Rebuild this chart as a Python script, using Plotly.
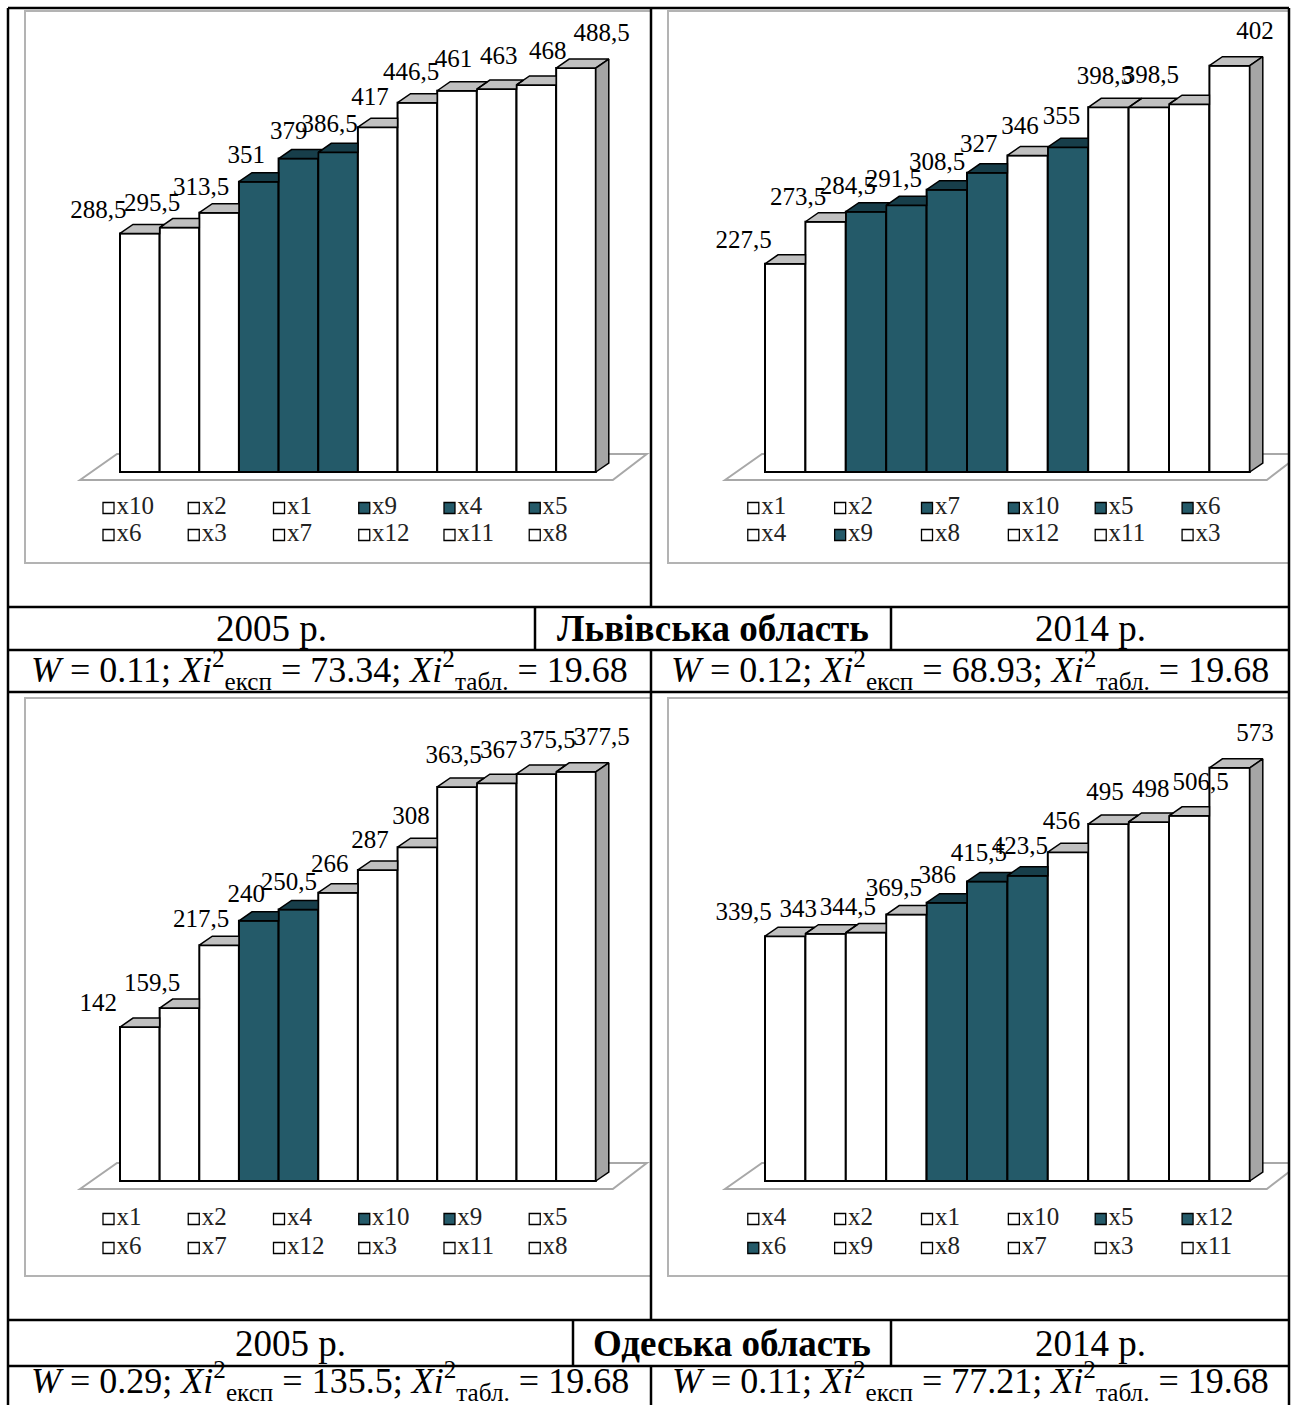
import plotly.graph_objects as go

W_PX, H_PX = 1297, 1405

# ---------------- data ----------------
lviv_2005_cats = ["x10", "x2", "x1", "x9", "x4", "x5", "x6", "x3", "x7", "x12", "x11", "x8"]
lviv_2005_vals = [288.5, 295.5, 313.5, 351, 379, 386.5, 417, 446.5, 461, 463, 468, 488.5]
lviv_2005_dark = ["x9", "x4", "x5"]

lviv_2014_cats = ["x1", "x2", "x7", "x10", "x5", "x6", "x4", "x9", "x8", "x12", "x11", "x3"]
lviv_2014_vals = [227.5, 273.5, 284.5, 291.5, 308.5, 327, 346, 355, 398.5, 398.5, 402, 444]
lviv_2014_labels = ["227,5", "273,5", "284,5", "291,5", "308,5", "327", "346", "355",
                    "398,5", "398,5", "", "402"]
lviv_2014_dark = ["x7", "x10", "x5", "x6", "x9"]

odesa_2005_cats = ["x1", "x2", "x4", "x10", "x9", "x5", "x6", "x7", "x12", "x3", "x11", "x8"]
odesa_2005_vals = [142, 159.5, 217.5, 240, 250.5, 266, 287, 308, 363.5, 367, 375.5, 377.5]
odesa_2005_dark = ["x10", "x9"]

odesa_2014_cats = ["x4", "x2", "x1", "x10", "x5", "x12", "x6", "x9", "x8", "x7", "x3", "x11"]
odesa_2014_vals = [339.5, 343, 344.5, 369.5, 386, 415.5, 423.5, 456, 495, 498, 506.5, 573]
odesa_2014_dark = ["x5", "x12", "x6"]

regions = ["Львівська область", "Одеська область"]
years = ["2005 р.", "2014 р."]
stat_W = [["0.11", "0.12"], ["0.29", "0.11"]]
stat_chi_exp = [["73.34", "68.93"], ["135.5", "77.21"]]
stat_chi_tab = "19.68"

# ---------------- style ----------------
DARK = "#245a69"
DARK_TOP = "#173e4a"
GRAY_TOP = "#c0c0c0"
SIDE = "#a5a5a5"
FRAME = "#b3b3b3"
SERIF = "Liberation Serif"
LABEL_SIZE = 25
LEGEND_SIZE = 25
TABLE_SIZE = 37
STAT_SIZE = 36


def fmt(v):
    s = ("%g" % v)
    return s.replace(".", ",")


charts = [
    dict(cats=lviv_2005_cats, vals=lviv_2005_vals, labels=None, dark=lviv_2005_dark,
         box=(25, 11, 651, 563), bar_left=120, bar_w=39.65, base=472, k=0.827, leg=(36, 63)),
    dict(cats=lviv_2014_cats, vals=lviv_2014_vals, labels=lviv_2014_labels, dark=lviv_2014_dark,
         box=(668, 11, 1289, 563), bar_left=765, bar_w=40.4, base=472, k=0.915, leg=(36, 63)),
    dict(cats=odesa_2005_cats, vals=odesa_2005_vals, labels=None, dark=odesa_2005_dark,
         box=(25, 698, 651, 1276), bar_left=120, bar_w=39.65, base=1181, k=1.084, leg=(38, 67)),
    dict(cats=odesa_2014_cats, vals=odesa_2014_vals, labels=None, dark=odesa_2014_dark,
         box=(668, 698, 1289, 1276), bar_left=765, bar_w=40.4, base=1181, k=0.721, leg=(38, 67)),
]

fig = go.Figure()
layout_axes = {}
shapes = []
annotations = []


def px_x(x):
    return x / W_PX


def px_y(y):
    return 1 - y / H_PX


for n, ch in enumerate(charts, start=1):
    xa = "x" if n == 1 else "x%d" % n
    ya = "y" if n == 1 else "y%d" % n
    vals = ch["vals"]
    cats = ch["cats"]
    N = len(vals)
    w = ch["bar_w"]
    k = ch["k"]
    l, t, r, b = ch["box"]
    c0 = ch["bar_left"] + w / 2
    base = ch["base"]
    layout_axes["xaxis" if n == 1 else "xaxis%d" % n] = dict(
        domain=[px_x(l), px_x(r)], range=[(l - c0) / w, (r - c0) / w],
        visible=False, fixedrange=True, anchor=ya)
    layout_axes["yaxis" if n == 1 else "yaxis%d" % n] = dict(
        domain=[px_y(b), px_y(t)], range=[(base - b) / k, (base - t) / k],
        visible=False, fixedrange=True, anchor=xa)

    # chart frame
    shapes.append(dict(type="rect", xref="paper", yref="paper",
                       x0=px_x(l), x1=px_x(r), y0=px_y(b), y1=px_y(t),
                       line=dict(color=FRAME, width=2), layer="below"))

    dx = 13 / w
    dy = 9 / k

    # floor (drawn under the bars)
    fl = [(-0.5 - 40 / w, -8 / k), (-0.5 - 3 / w, 18 / k),
          (N - 0.5 + 51 / w, 18 / k), (N - 0.5 + 17 / w, -8 / k)]
    path = "M " + " L ".join("%.5f,%.5f" % p for p in fl) + " Z"
    shapes.append(dict(type="path", xref=xa, yref=ya, path=path, fillcolor="white",
                       line=dict(color="#a8a8a8", width=2), layer="below"))

    is_dark = [c in ch["dark"] for c in cats]
    fig.add_trace(go.Bar(x=list(range(N)), y=vals, width=1,
                         marker=dict(color=[DARK if d else "white" for d in is_dark],
                                     line=dict(color="black", width=2)),
                         xaxis=xa, yaxis=ya, hoverinfo="skip", showlegend=False))

    # top faces (clipped where the next, taller bar hides them)
    for want_dark in (False, True):
        xs, ys = [], []
        for i, v in enumerate(vals):
            if is_dark[i] != want_dark:
                continue
            xl, xr = i - 0.5, i + 0.5
            pts = [(xl, v), (xr, v)]
            if i + 1 < N:
                vn = max(vals[i + 1], v)
                if vn >= v + dy:
                    pts.append((xr, v + dy))
                else:
                    pts.append((xr, vn))
                    pts.append((xr + (v + dy - vn) / dy * dx, v + dy))
            else:
                pts.append((xr + dx, v + dy))
            pts.append((xl + dx, v + dy))
            pts.append((xl, v))
            xs += [p[0] for p in pts] + [None]
            ys += [p[1] for p in pts] + [None]
        if xs:
            fig.add_trace(go.Scatter(x=xs, y=ys, fill="toself",
                                     fillcolor=DARK_TOP if want_dark else GRAY_TOP,
                                     mode="lines", line=dict(color="black", width=1.5),
                                     xaxis=xa, yaxis=ya, hoverinfo="skip", showlegend=False))

    # right side face of the last bar
    vl = vals[-1]
    xr = N - 0.5
    fig.add_trace(go.Scatter(x=[xr, xr + dx, xr + dx, xr, xr], y=[0, dy, vl + dy, vl, 0],
                             fill="toself", fillcolor=SIDE, mode="lines",
                             line=dict(color="black", width=1.5),
                             xaxis=xa, yaxis=ya, hoverinfo="skip", showlegend=False))

    # value labels (perspective spread: pushed outwards towards both ends)
    labels = ch["labels"] if ch["labels"] is not None else [fmt(v) for v in vals]
    mid = (N - 1) / 2
    spread = [-8 + 0.68 * (i - mid) + 0.179 * (i - mid) ** 3 for i in range(N)]
    lx = [i + s / w for i, s in enumerate(spread)]
    ly = [v + (22 + i) / k for i, v in enumerate(vals)]
    fig.add_trace(go.Scatter(x=lx, y=ly, text=labels, mode="text", textposition="middle center",
                             textfont=dict(family=SERIF, size=LABEL_SIZE, color="black"),
                             cliponaxis=True, xaxis=xa, yaxis=ya, hoverinfo="skip",
                             showlegend=False))

    # legend (2 rows x 6 columns)
    gx = [-0.79 + 2.15 * (i % 6) for i in range(N)]
    gy = [-(ch["leg"][i // 6]) / k for i in range(N)]
    fig.add_trace(go.Scatter(x=gx, y=gy, text=cats, mode="markers+text",
                             textposition="middle right",
                             marker=dict(symbol="square", size=11,
                                         color=[DARK if d else "white" for d in is_dark],
                                         line=dict(color="black", width=1.3)),
                             textfont=dict(family=SERIF, size=LEGEND_SIZE, color="#222222"),
                             xaxis=xa, yaxis=ya, hoverinfo="skip", showlegend=False))

# ---------------- table grid ----------------
def hline(y, x0, x1):
    shapes.append(dict(type="line", xref="paper", yref="paper", x0=px_x(x0), x1=px_x(x1),
                       y0=px_y(y), y1=px_y(y), line=dict(color="black", width=2.5), layer="above"))


def vline(x, y0, y1):
    shapes.append(dict(type="line", xref="paper", yref="paper", x0=px_x(x), x1=px_x(x),
                       y0=px_y(y0), y1=px_y(y1), line=dict(color="black", width=2.5), layer="above"))


L, R = 8, 1289
hline(8, L, R)
for y in (607, 650, 692, 1320, 1366):
    hline(y, L, R)
vline(L, 8, 1405)
vline(R, 8, 1405)
vline(651, 8, 607)
vline(535, 607, 650)
vline(891, 607, 650)
vline(651, 650, 692)
vline(651, 692, 1320)
vline(573, 1320, 1366)
vline(891, 1320, 1366)
vline(651, 1366, 1405)


def text(x, y, s, size=TABLE_SIZE):
    annotations.append(dict(x=px_x(x), y=px_y(y), xref="paper", yref="paper", text=s,
                            showarrow=False, xanchor="center", yanchor="middle",
                            font=dict(family=SERIF, size=size, color="black")))


def stat_text(wv, chi):
    return ("<i>W</i> = %s; <i>Xi</i><sup>2</sup><sub>експ</sub> = %s; "
            "<i>Xi</i><sup>2</sup><sub>табл.</sub> = %s" % (wv, chi, stat_chi_tab))


row_specs = [
    dict(y_year=629, y_stat=670, mid=(535, 891)),
    dict(y_year=1343, y_stat=1381, mid=(573, 891)),
]
for ri, rs in enumerate(row_specs):
    a, b2 = rs["mid"]
    text((L + a) / 2, rs["y_year"], years[0])
    text((a + b2) / 2, rs["y_year"], "<b>%s</b>" % regions[ri])
    text((b2 + R) / 2, rs["y_year"], years[1])
    text((L + 651) / 2, rs["y_stat"], stat_text(stat_W[ri][0], stat_chi_exp[ri][0]), STAT_SIZE)
    text((651 + R) / 2, rs["y_stat"], stat_text(stat_W[ri][1], stat_chi_exp[ri][1]), STAT_SIZE)

fig.update_layout(
    width=W_PX, height=H_PX, margin=dict(l=0, r=0, t=0, b=0),
    paper_bgcolor="white", plot_bgcolor="rgba(0,0,0,0)",
    showlegend=False, hovermode=False,
    shapes=shapes, annotations=annotations,
    **layout_axes,
)

fig.write_html("out.html")
